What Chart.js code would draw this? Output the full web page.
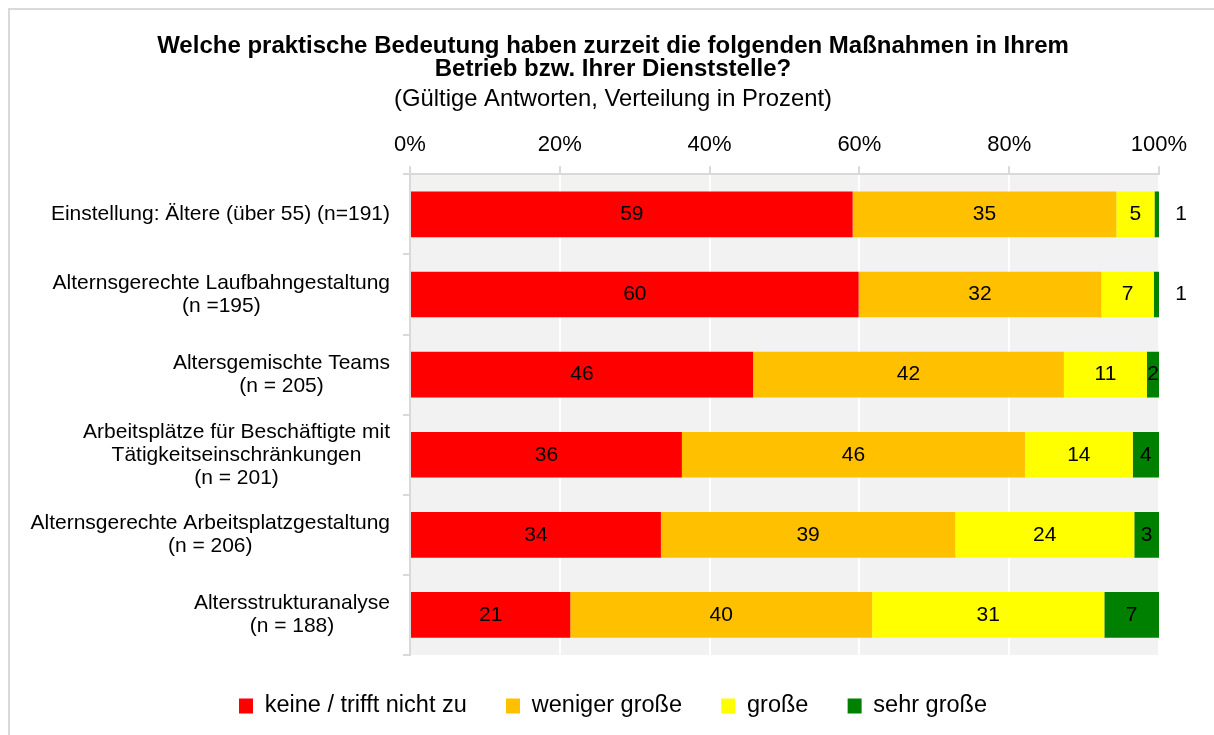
<!DOCTYPE html>
<html><head><meta charset="utf-8">
<script src="https://cdn.jsdelivr.net/npm/chart.js@4/dist/chart.umd.min.js"></script>
<style>
html,body{margin:0;padding:0;background:#fff;overflow:hidden;}
#wrap{position:relative;width:1214px;height:735px;overflow:hidden;}
#frame{position:absolute;left:8px;top:8px;width:1400px;height:900px;border:2px solid #d9d9d9;box-sizing:border-box;}
canvas{position:absolute;left:0;top:0;}
</style></head><body>
<div id="wrap"><div id="frame"></div><canvas id="c" width="1214" height="735"></canvas></div>
<script>
const categories = [
  ['Einstellung: Ältere (über 55) (n=191)'],
  ['Alternsgerechte Laufbahngestaltung', '(n =195)'],
  ['Altersgemischte Teams', '(n = 205)'],
  ['Arbeitsplätze für Beschäftigte mit', 'Tätigkeitseinschränkungen', '(n = 201)'],
  ['Alternsgerechte Arbeitsplatzgestaltung', '(n = 206)'],
  ['Altersstrukturanalyse', '(n = 188)']
];
const seriesNames = ['keine / trifft nicht zu', 'weniger große', 'große', 'sehr große'];
const keine      = [59.1, 59.9, 45.8, 36.3, 33.5, 21.4];
const weniger    = [35.2, 32.4, 41.5, 45.8, 39.3, 40.3];
const grosse     = [5.1, 7.0, 11.1, 14.4, 23.9, 31.0];
const sehrGrosse = [0.6, 0.7, 1.6, 3.5, 3.3, 7.3];
const xTicks = [0, 20, 40, 60, 80, 100];
const colors = ['#FF0000', '#FFC000', '#FFFF00', '#008000'];

const FONT = '"Liberation Sans", Arial, sans-serif';
Chart.defaults.font.family = FONT;
Chart.defaults.color = '#000';

const bgPlugin = {
  id: 'bg',
  beforeDraw(chart) {
    const {ctx, chartArea: a} = chart;
    ctx.save();
    ctx.fillStyle = '#f2f2f2';
    ctx.fillRect(a.left, a.top, a.right - a.left, a.bottom - a.top);
    ctx.restore();
  }
};

const yLabelPlugin = {
  id: 'ylabels',
  afterDraw(chart) {
    const {ctx} = chart;
    const ys = chart.scales.y;
    ctx.save();
    ctx.font = '21px ' + FONT;
    ctx.fillStyle = '#000';
    ctx.textAlign = 'center';
    ctx.textBaseline = 'middle';
    const lh = 23;
    categories.forEach((lines, i) => {
      const cy = ys.getPixelForValue(i);
      const maxW = Math.max(...lines.map(l => ctx.measureText(l).width));
      const cx = chart.chartArea.left - 20 - maxW / 2;
      lines.forEach((l, j) => ctx.fillText(l, cx, cy + (j - (lines.length - 1) / 2) * lh));
    });
    ctx.restore();
  }
};

const valueLabelPlugin = {
  id: 'vlabels',
  afterDatasetsDraw(chart) {
    const {ctx} = chart;
    ctx.save();
    ctx.font = '21px ' + FONT;
    ctx.fillStyle = '#000';
    ctx.textAlign = 'center';
    ctx.textBaseline = 'middle';
    chart.data.datasets.forEach((ds, di) => {
      const meta = chart.getDatasetMeta(di);
      meta.data.forEach((el, i) => {
        const v = ds.data[i];
        const p = el.getProps(['x', 'base', 'y'], true);
        let px = (p.x + p.base) / 2;
        if (Math.abs(p.x - p.base) < 8) px = p.x + 22;
        ctx.fillText(String(Math.round(v)), px, p.y);
      });
    });
    ctx.restore();
  }
};

const seriesData = [keine, weniger, grosse, sehrGrosse];

new Chart(document.getElementById('c'), {
  type: 'bar',
  data: {
    labels: categories.map(c => c.join(' ')),
    datasets: seriesNames.map((n, i) => ({
      label: n,
      data: seriesData[i],
      backgroundColor: colors[i],
      borderWidth: 0,
      barPercentage: 0.57,
      categoryPercentage: 1
    }))
  },
  options: {
    indexAxis: 'y',
    responsive: false,
    animation: false,
    layout: {padding: {top: 0, left: 67, right: 55, bottom: 7.25}},
    scales: {
      x: {
        position: 'top',
        stacked: true,
        min: 0, max: 100,
        afterBuildTicks: s => { s.ticks = xTicks.map(v => ({value: v})); },
        ticks: {callback: v => v + '%', color: '#000', font: {size: 22, lineHeight: 1.2}, padding: 7.8, maxRotation: 0},
        grid: {color: '#ffffff', lineWidth: 2, tickColor: '#d9d9d9', tickLength: 8},
        border: {color: '#d9d9d9', width: 2}
      },
      y: {
        stacked: true,
        offset: true,
        ticks: {display: false},
        grid: {offset: true, drawOnChartArea: false, tickColor: '#d9d9d9', tickLength: 7, lineWidth: 2},
        border: {color: '#d9d9d9', width: 2},
        afterFit: s => { s.width = 343; }
      }
    },
    plugins: {
      tooltip: {enabled: false},
      title: {
        display: true,
        text: ['Welche praktische Bedeutung haben zurzeit die folgenden Maßnahmen in Ihrem', 'Betrieb bzw. Ihrer Dienststelle?'],
        color: '#000',
        font: {size: 24, weight: 'bold', lineHeight: 0.94},
        padding: {top: 35.5, bottom: 0}
      },
      subtitle: {
        display: true,
        text: '(Gültige Antworten, Verteilung in Prozent)',
        color: '#000',
        font: {size: 23.8, weight: 'normal', lineHeight: 1.1},
        padding: {top: 5.5, bottom: 12}
      },
      legend: {
        position: 'bottom',
        labels: {boxWidth: 14, boxHeight: 15, padding: 39.25, color: '#000', font: {size: 23.5}}
      }
    }
  },
  plugins: [bgPlugin, valueLabelPlugin, yLabelPlugin]
});
</script>
</body></html>
